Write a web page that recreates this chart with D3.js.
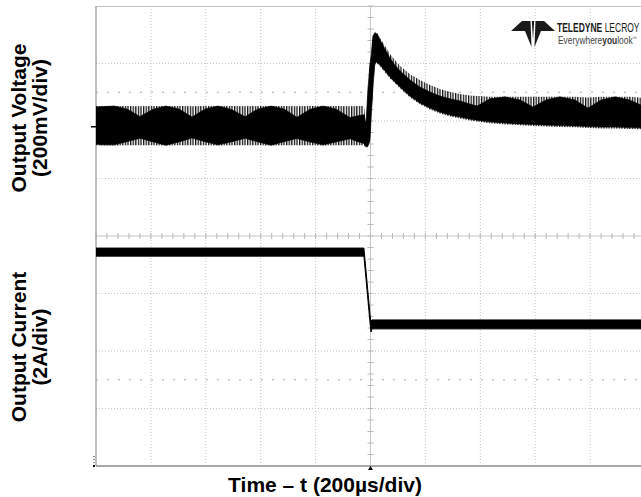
<!DOCTYPE html>
<html>
<head>
<meta charset="utf-8">
<script src="https://cdn.jsdelivr.net/npm/d3@7/dist/d3.min.js"></script>
<style>
  html, body { margin: 0; padding: 0; background: #fff; }
  svg { display: block; }
</style>
</head>
<body>
<svg id="chart" width="641" height="497"></svg>
<script>
// ---- Time base: 200 µs/div, 10 divisions, trigger at t = 0 ----
const timeTicks = [-800, -600, -400, -200, 0, 200, 400, 600, 800];
const divTicks = [-3, -2, -1, 0, 1, 2, 3];
const cursorDivs = [2.5, -2.5];

// ---- Output voltage envelope: deviation from nominal (mV) ----
// outer = extreme of the switching ripple, inner = densely overlapped core
const timeUs = [
  -1000, -982, -934, -887, -840, -792, -745, -698, -650, -603, -556, -508,
  -457, -410, -362, -315, -268, -220, -173, -126, -75, -46, -24,
  -18, -16, -9, -2, 2, 9, 16, 24, 35, 53, 71, 89, 108, 144, 180, 217, 253,
  290, 326, 362, 388, 435, 490, 545, 592, 639, 690, 745, 792, 840, 891, 944, 1000
];
const vOuterHi = [
  72, 72, 72, 72, 71, 72, 72, 72, 71, 72, 72, 72,
  71, 72, 72, 72, 71, 72, 72, 72, 71, 72, 72,
  20, 23, 138, 222, 250, 319, 330, 326, 309, 281, 253, 232, 211, 183, 163, 145, 131,
  121, 114, 109, 107, 104, 104, 104, 104, 104, 104, 104, 102, 104, 104, 104, 100
];
const vInnerHi = [
  69, 70, 72, 62, 36, 61, 72, 62, 34, 62, 72, 61,
  35, 62, 72, 62, 33, 61, 72, 62, 32, 38, 42,
  15, 20, 135, 218, 246, 316, 326, 323, 302, 270, 239, 215, 194, 163, 138, 121, 107,
  97, 90, 79, 72, 97, 104, 93, 69, 93, 104, 93, 65, 93, 104, 93, 69
];
const vInnerLo = [
  -60, -63, -63, -52, -40, -53, -64, -53, -39, -52, -63, -53,
  -40, -53, -64, -52, -41, -53, -63, -53, -42, -52, -58,
  -67, -70, -67, -46, 23, 138, 222, 225, 215, 194, 173, 156, 138, 107, 83, 65, 51,
  41, 34, 27, 23, 17, 13, 10, 8, 6, 4, 3, 1, -1, -1, -3, -4
];
const vOuterLo = [
  -64, -64, -65, -64, -64, -64, -65, -64, -64, -64, -65, -64,
  -64, -64, -65, -64, -64, -64, -65, -64, -64, -64, -64,
  -70, -72, -70, -50, 18, 130, 216, 220, 210, 189, 168, 151, 133, 102, 78, 60, 46,
  36, 29, 22, 18, 12, 8, 5, 3, 1, -1, -2, -4, -6, -6, -8, -9
];

// ---- Output current (A) ----
const iTimeUs = [-1000, -24, 0, 2, 5, 1000];
const iHi = [7.58, 7.58, 5.08, 5.05, 5.08, 5.08];
const iLo = [7.30, 7.30, 4.80, 4.66, 4.77, 4.77];

// ---- Scales ----
const PLOT = { left: 96, right: 641, top: 6, bottom: 466 };
const x = d3.scaleLinear().domain([-1000, 1000]).range([96, 645]);
const yDiv = d3.scaleLinear().domain([-4, 4]).range([PLOT.bottom, PLOT.top]);
const yV = d3.scaleLinear().domain([-1180, 420]).range([PLOT.bottom, PLOT.top]);   // 200 mV/div
const yI = d3.scaleLinear().domain([0, 16]).range([PLOT.bottom, PLOT.top]);        // 2 A/div

const svg = d3.select("#chart");
const defs = svg.append("defs");

defs.append("clipPath").attr("id", "plotClip")
  .append("rect")
  .attr("x", PLOT.left).attr("y", PLOT.top)
  .attr("width", PLOT.right - PLOT.left).attr("height", PLOT.bottom - PLOT.top);

// vertical-line texture for the sparse part of the ripple band
const hatch = defs.append("pattern").attr("id", "hatch")
  .attr("patternUnits", "userSpaceOnUse").attr("width", 2.6).attr("height", 10);
hatch.append("rect").attr("width", 1.3).attr("height", 10).attr("fill", "#111");

// ---- Graticule ----
const grid = svg.append("g");
grid.selectAll("line.vg").data(timeTicks.filter(t => t !== 0)).join("line")
  .attr("x1", d => x(d)).attr("x2", d => x(d))
  .attr("y1", PLOT.top).attr("y2", PLOT.bottom)
  .attr("stroke", "#c4c4c4").attr("stroke-width", 1).attr("stroke-dasharray", "1,2");
grid.selectAll("line.hg").data(divTicks.filter(d => d !== 0)).join("line")
  .attr("x1", PLOT.left).attr("x2", PLOT.right)
  .attr("y1", d => yDiv(d)).attr("y2", d => yDiv(d))
  .attr("stroke", "#c4c4c4").attr("stroke-width", 1).attr("stroke-dasharray", "1,2");
grid.selectAll("line.cur").data(cursorDivs).join("line")
  .attr("x1", PLOT.left).attr("x2", PLOT.right)
  .attr("y1", d => yDiv(d)).attr("y2", d => yDiv(d))
  .attr("stroke", "#b0b0b0").attr("stroke-width", 1).attr("stroke-dasharray", "2,9");

// centre cross with minor ticks (5 per division)
grid.append("line")
  .attr("x1", x(0)).attr("x2", x(0)).attr("y1", PLOT.top).attr("y2", PLOT.bottom)
  .attr("stroke", "#c8c8c8").attr("stroke-width", 1);
grid.append("line")
  .attr("x1", PLOT.left).attr("x2", PLOT.right).attr("y1", yDiv(0)).attr("y2", yDiv(0))
  .attr("stroke", "#c8c8c8").attr("stroke-width", 1);
const minorY = d3.range(-4, 4.01, 0.2);
grid.selectAll("line.my").data(minorY).join("line")
  .attr("x1", x(0) - 3).attr("x2", x(0) + 3)
  .attr("y1", d => yDiv(d)).attr("y2", d => yDiv(d))
  .attr("stroke", "#b8b8b8").attr("stroke-width", 1);
const minorX = d3.range(-1000, 1001, 40);
grid.selectAll("line.mx").data(minorX).join("line")
  .attr("x1", d => x(d)).attr("x2", d => x(d))
  .attr("y1", yDiv(0) - 3).attr("y2", yDiv(0) + 3)
  .attr("stroke", "#b8b8b8").attr("stroke-width", 1);

// frame
grid.append("line").attr("x1", PLOT.left).attr("x2", PLOT.right)
  .attr("y1", PLOT.top + 0.5).attr("y2", PLOT.top + 0.5)
  .attr("stroke", "#c0c0c0").attr("stroke-width", 1.2);
grid.append("line").attr("x1", PLOT.left).attr("x2", PLOT.left)
  .attr("y1", PLOT.top).attr("y2", PLOT.bottom)
  .attr("stroke", "#a8a8a8").attr("stroke-width", 1.5);
grid.append("line").attr("x1", PLOT.left).attr("x2", PLOT.right)
  .attr("y1", PLOT.bottom).attr("y2", PLOT.bottom)
  .attr("stroke", "#a8a8a8").attr("stroke-width", 2);

// ---- Traces ----
const traces = svg.append("g").attr("clip-path", "url(#plotClip)");
const vRows = timeUs.map((t, i) => ({
  t, oh: vOuterHi[i], ih: vInnerHi[i], il: vInnerLo[i], ol: vOuterLo[i]
}));

traces.append("path").datum(vRows)
  .attr("fill", "url(#hatch)")
  .attr("d", d3.area().x(d => x(d.t)).y0(d => yV(d.ol)).y1(d => yV(d.oh)));
traces.append("path").datum(vRows)
  .attr("fill", "#000").attr("stroke", "#000").attr("stroke-width", 0.6)
  .attr("d", d3.area().x(d => x(d.t)).y0(d => yV(d.il)).y1(d => yV(d.ih)));

const iRows = iTimeUs.map((t, i) => ({ t, hi: iHi[i], lo: iLo[i] }));
traces.append("path").datum(iRows)
  .attr("fill", "#000").attr("stroke", "#000").attr("stroke-width", 1)
  .attr("d", d3.area().x(d => x(d.t)).y0(d => yI(d.lo)).y1(d => yI(d.hi)));

// ---- Channel / trigger markers ----
svg.append("line").attr("x1", 91).attr("x2", 96)
  .attr("y1", yV(0)).attr("y2", yV(0)).attr("stroke", "#000").attr("stroke-width", 1.5);
svg.append("line").attr("x1", 94).attr("x2", 94)
  .attr("y1", yI(0) - 10).attr("y2", yI(0))
  .attr("stroke", "#333").attr("stroke-width", 1).attr("stroke-dasharray", "1,2");
svg.append("rect").attr("x", 93).attr("y", yI(0) - 1).attr("width", 2).attr("height", 2).attr("fill", "#000");
svg.append("path")
  .attr("d", `M${x(0) - 2.5},${PLOT.bottom + 4} L${x(0) + 2.5},${PLOT.bottom + 4} L${x(0)},${PLOT.bottom} Z`)
  .attr("fill", "#000");

// ---- Axis titles ----
const titleFont = "'Liberation Sans', Arial, Helvetica, sans-serif";
const titleSize = 21;
function vTitle(px, py, txt) {
  svg.append("text")
    .attr("transform", `translate(${px},${py}) rotate(-90)`)
    .attr("text-anchor", "middle")
    .attr("font-family", titleFont).attr("font-weight", "bold").attr("font-size", titleSize)
    .attr("fill", "#000").text(txt);
}
vTitle(25.5, 118, "Output Voltage");
vTitle(46.5, 118, "(200mV/div)");
vTitle(25.5, 347, "Output Current");
vTitle(46.5, 347, "(2A/div)");

svg.append("text")
  .attr("x", 325).attr("y", 492).attr("text-anchor", "middle")
  .attr("font-family", titleFont).attr("font-weight", "bold").attr("font-size", titleSize)
  .attr("fill", "#000").text("Time – t (200µs/div)");

// ---- Scope vendor badge ----
const logo = svg.append("g").attr("fill", "#1a1a1a");
logo.append("path").attr("d", "M511,31 L522,21 L530.5,21 L531.5,47 L525,31 Z");
logo.append("path").attr("d", "M555,31 L544,21 L535.5,21 L534.5,47 L541,31 Z");
logo.append("path").attr("d", "M531.8,21 L534.2,21 L533,40 Z");

// condensed wordmark: one text per line, squeezed horizontally
const brand = svg.append("g").attr("transform", "translate(557,31.5) scale(0.68,1)")
  .append("text").attr("x", 0).attr("y", 0)
  .attr("font-family", titleFont).attr("font-size", 12.5).attr("fill", "#1a1a1a");
brand.append("tspan").attr("font-weight", "bold").text("TELEDYNE");
brand.append("tspan").text(" LECROY");

const tag = svg.append("g").attr("transform", "translate(558,44) scale(0.84,1)")
  .append("text").attr("x", 0).attr("y", 0)
  .attr("font-family", titleFont).attr("font-size", 10).attr("fill", "#444");
tag.append("tspan").text("Everywhere");
tag.append("tspan").attr("font-weight", "bold").attr("fill", "#333").text("you");
tag.append("tspan").text("look");
tag.append("tspan").attr("font-size", 5).attr("dy", -4).text("™");
</script>
</body>
</html>
